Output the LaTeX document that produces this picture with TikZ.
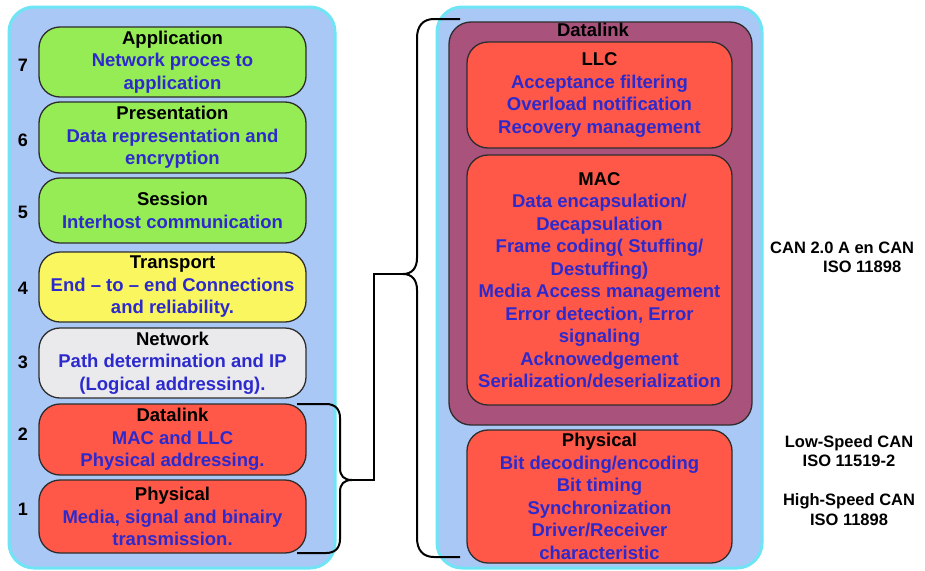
\documentclass[tikz,border=0pt]{standalone}
\usepackage{fontspec}
\setmainfont{Liberation Sans}
\begin{document}
\definecolor{panelblue}{RGB}{170,200,245}
\definecolor{panelrim}{RGB}{110,228,245}
\definecolor{layergreen}{RGB}{150,236,85}
\definecolor{layeryellow}{RGB}{250,246,95}
\definecolor{layergray}{RGB}{234,234,236}
\definecolor{layerred}{RGB}{255,88,72}
\definecolor{dlpurple}{RGB}{168,82,124}
\definecolor{infoblue}{RGB}{45,42,205}
\definecolor{rimdark}{RGB}{45,45,45}
\begin{tikzpicture}[x=1pt,y=-1pt,
  panel/.style={draw=panelrim,fill=panelblue,line width=3pt,rounded corners=25pt},
  layer/.style={draw=rimdark,line width=1.3pt,rounded corners=21pt,
    text=infoblue,align=center,inner sep=0pt,
    font=\fontsize{18.5}{22.5}\selectfont\bfseries},
  leftlayer/.style={layer,minimum width=267pt},
  rightlayer/.style={layer,minimum width=265pt},
  head/.style={text=black},
  num/.style={font=\fontsize{18}{20}\selectfont\bfseries,text=black},
  std/.style={font=\fontsize{16.5}{19.5}\selectfont\bfseries,text=black,inner sep=0pt},
  brace/.style={draw=black,line width=2pt}]
\useasboundingbox (0,0) rectangle (925,570);
\fill[white] (0,0) rectangle (925,570);

% two background panels
\node[panel,minimum width=326pt,minimum height=561pt] (leftpanel) at (172,287.5) {};
\node[panel,minimum width=325pt,minimum height=561pt] (rightpanel) at (599.5,287.5) {};

% OSI stack
\node[leftlayer,fill=layergreen,minimum height=70pt] (app) at (172.5,62)
  {\color{black}Application\\Network proces to\\application};
\node[leftlayer,fill=layergreen,minimum height=71pt] (pres) at (172.5,137.5)
  {\color{black}Presentation\\Data representation and\\encryption};
\node[leftlayer,fill=layergreen,minimum height=65pt] (sess) at (172.5,210.5)
  {\color{black}Session\\Interhost communication};
\node[leftlayer,fill=layeryellow,minimum height=70pt] (trans) at (172.5,287)
  {\color{black}Transport\\End -- to -- end Connections\\and reliability.};
\node[leftlayer,fill=layergray,minimum height=70pt] (net) at (172.5,363)
  {\color{black}Network\\Path determination and IP\\(Logical addressing).};
\node[leftlayer,fill=layerred,minimum height=71pt] (dl) at (172.5,439.5)
  {\color{black}Datalink\\MAC and LLC\\Physical addressing.};
\node[leftlayer,fill=layerred,minimum height=73pt] (phy) at (172.5,516.5)
  {\color{black}Physical\\Media, signal and binairy\\transmission.};

\node[num] (n7) at (23,65) {7};
\node[num] (n6) at (23,140) {6};
\node[num] (n5) at (23,212) {5};
\node[num] (n4) at (23,288) {4};
\node[num] (n3) at (23,362) {3};
\node[num] (n2) at (23,434) {2};
\node[num] (n1) at (23,509) {1};

% CAN data link and physical layer
\node[draw=rimdark,fill=dlpurple,line width=1.3pt,rounded corners=22pt,
  minimum width=303pt,minimum height=403pt] (dlbox) at (600.5,223.5) {};
\node[font=\fontsize{18.5}{22.5}\selectfont\bfseries,text=black,inner sep=0pt]
  (dltitle) at (593,30) {Datalink};
\node[rightlayer,fill=layerred,minimum height=106pt] (llc) at (599.5,95)
  {\color{black}LLC\\Acceptance filtering\\Overload notification\\Recovery management};
\node[rightlayer,fill=layerred,minimum height=250pt] (mac) at (599.5,280)
  {\color{black}MAC\\Data encapsulation/\\Decapsulation\\Frame coding( Stuffing/\\Destuffing)\\Media Access management\\Error detection, Error\\signaling\\Acknowedgement\\Serialization/deserialization};
\node[rightlayer,fill=layerred,minimum height=133pt] (cphy) at (599.5,496.5)
  {\color{black}Physical\\Bit decoding/encoding\\Bit timing\\Synchronization\\Driver/Receiver\\characteristic};

% standards
\node[std,align=left,anchor=west] (can20) at (770,257.5)
  {CAN 2.0 A en CAN\\\hspace*{53pt}ISO 11898};
\node[std,align=center] (lowspeed) at (849,451) {Low-Speed CAN\\ISO 11519-2};
\node[std,align=center] (highspeed) at (849,509.5) {High-Speed CAN\\ISO 11898};

% braces and the link between them
\coordinate (smalltip) at (352,480);
\coordinate (bigtip) at (403,274);
\draw[brace] (297,404) -- (326,404) .. controls (335,404) and (340,409) .. (340,418)
  -- (340,468) .. controls (340,476) and (344,480) .. (smalltip);
\draw[brace] (297,553) -- (326,553) .. controls (335,553) and (340,548) .. (340,539)
  -- (340,492) .. controls (340,484) and (344,480) .. (smalltip);
\draw[brace] (smalltip) -- (374,480) -- (374,274) -- (bigtip);
\draw[brace] (460,19) -- (434,19) .. controls (423,19) and (417,26) .. (417,38)
  -- (417,258) .. controls (417,268) and (412,274) .. (bigtip);
\draw[brace] (460,557) -- (434,557) .. controls (423,557) and (417,550) .. (417,538)
  -- (417,290) .. controls (417,280) and (412,274) .. (bigtip);
\end{tikzpicture}
\end{document}
